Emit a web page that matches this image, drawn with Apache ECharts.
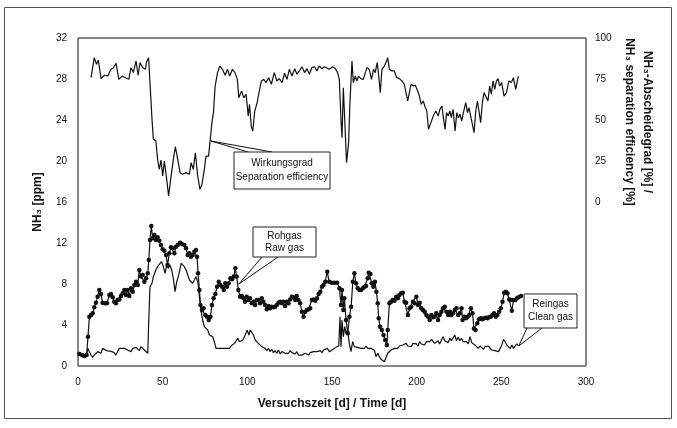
<!DOCTYPE html>
<html>
<head>
<meta charset="utf-8">
<script src="https://cdn.jsdelivr.net/npm/echarts@6/dist/echarts.min.js"></script>
<style>
  html, body { margin: 0; padding: 0; background: #fff; }
  #chart { width: 677px; height: 428px; }
</style>
</head>
<body>
<div id="chart"></div>
<script>
'use strict';

// NH3 separation efficiency [%] (right axis)
const effDays = [7.7, 9.6, 10.9, 12, 13.6, 15.6, 17.6, 19.5, 20.9, 22.5, 24.1, 26, 28, 30, 31.3, 32.7, 34.3, 35.5, 36.6, 38.2,
  39.8, 40.5, 41.7, 42.5, 43.7, 44.5, 46, 47, 48, 49, 50, 51, 52.4, 53.5, 55, 56.3, 57.5, 58.9, 60.3, 61.8,
  63.8, 65.8, 66.8, 68.1, 69.3, 70.7, 72, 73.2, 74.6, 75.6, 77.1, 77.9, 79.1, 80, 81, 82.4, 83.8, 85.3, 86.9, 88.3,
  89.6, 91.2, 92.7, 94.1, 95, 96.6, 98, 99.3, 100.5, 101.3, 102.3, 103.2, 104.4, 105.8, 106.7, 108.3, 109.7, 111, 112.6, 114.2,
  115.9, 117.5, 118.9, 120.5, 122, 123.4, 124.8, 126.4, 128, 129.3, 130.7, 132.2, 133.8, 135.2, 136.6, 138.1, 139.7, 141, 142.4, 144,
  145.5, 146.5, 148.4, 150.4, 152, 153.3, 154.3, 155.3, 155.9, 156.7, 157.5, 158.6, 159.8, 160.6, 161.8, 162.6, 163.8, 164.7, 165.7, 167.1,
  168.5, 169.6, 170.6, 172, 173.3, 174.5, 175.5, 176.7, 177.5, 178.5, 179.5, 180.9, 181.9, 182.9, 183.9, 185.4, 186.8, 188.2, 189.8, 191.3,
  192.7, 193.7, 194.7, 195.7, 196.7, 198, 199.2, 200.6, 201.6, 202.7, 203.9, 205.1, 206, 207, 208.4, 209.8, 211.3, 212.7, 213.7, 214.9,
  215.9, 216.8, 217.6, 218.6, 219.6, 220.5, 221.5, 222.7, 223.7, 224.6, 225.6, 226.6, 227.6, 229, 230, 230.9, 232.3, 233.9, 234.9, 235.9,
  236.8, 237.8, 238.8, 239.8, 240.8, 242.1, 243.1, 244.1, 245.1, 246.1, 247.1, 248.1, 249, 250.2, 251.6, 253, 254.5, 255.9, 257.1, 258.5, 260];
const effPct = [75.8, 88, 84, 86.6, 75.2, 77.3, 76.9, 80.9, 81.9, 84.6, 74.8, 76.8, 75.8, 74.8, 81.9, 78.9, 86, 77.3, 85, 81.9,
  80.9, 85.4, 88, 72.8, 50.4, 38.2, 37.2, 26, 19.9, 25.6, 15.9, 25, 13.8, 3.7, 15.9, 26, 33.7, 26, 17.9, 16.9,
  17.9, 16.9, 24, 19.9, 30, 15.9, 7.7, 10.8, 19.9, 28, 28, 36.2, 48.4, 54.5, 70.7, 78.9, 82.9, 80.9, 77.3, 80.9,
  76.8, 80.9, 78.9, 74.8, 63.6, 67.7, 63.6, 65.7, 52.4, 59.6, 46.3, 43.3, 55.5, 60.6, 65.7, 73.8, 74.8, 72.8, 75.8, 71.8,
  78.9, 73.8, 75.2, 72.8, 78.5, 74.8, 80.9, 76.8, 81.3, 77.9, 79.9, 82.5, 78.9, 81.3, 77.9, 81.9, 82.5, 79.9, 82.9, 81.3,
  82.5, 81.9, 80.9, 82.5, 81.3, 78.9, 74.8, 50.4, 39.2, 69.7, 50.4, 24, 36.2, 60.6, 86, 72.8, 76.8, 73.8, 76.8, 75.2,
  74.8, 75.8, 81.9, 80.9, 74.8, 80.9, 78.9, 85, 77.9, 66.7, 80.9, 82.9, 85, 88, 80.9, 79.9, 79.9, 75.8, 75.2, 73.8,
  71.8, 70.7, 61.6, 60.6, 71.8, 70.7, 71.2, 67.7, 64.6, 59.6, 61.6, 57.5, 55.5, 44.3, 48.4, 52.4, 55.5, 52.4, 56.5, 58.5,
  50.4, 44.3, 54.5, 52.4, 55.5, 51.4, 56.5, 43.3, 54.5, 51.4, 53.5, 49.4, 54.5, 60.6, 54.5, 57.5, 50.4, 42.3, 55.5, 61.6,
  62.6, 48.4, 60.6, 66.7, 67.7, 61.6, 70.7, 65.7, 73.8, 68.7, 73.8, 75.2, 70.7, 72.8, 64.6, 66.7, 73.8, 72.8, 75.8, 68.7, 76.8];

// Rohgas / raw gas NH3 [ppm]
const rawDays = [0.8, 2.4, 3.7, 5.1, 5.9, 6.7, 7.7, 8.7, 9.6, 10.6, 11.6, 12.6, 13.6, 14.5, 15.9, 17.1, 18.5, 19.5, 20.5, 21.4,
  22.4, 23.4, 24.4, 25.4, 26.4, 27.4, 28.3, 29.3, 30.3, 31.3, 32.3, 33.3, 34.3, 35.3, 36.2, 37.2, 38.2, 39.2, 40.2, 41.2,
  41.8, 42.5, 43.3, 44.1, 45.1, 46, 47, 48, 49, 50, 51, 52, 52.9, 53.9, 54.9, 55.9, 56.9, 57.9, 58.9, 60.3,
  61.4, 62.8, 63.8, 64.8, 65.8, 66.7, 67.7, 68.7, 69.7, 70.3, 70.9, 71.7, 72.3, 73.2, 74.2, 75.2, 76.2, 77.2, 78.2, 79.1,
  80.1, 81.1, 82.1, 83.1, 84.1, 85.1, 86.1, 87, 88, 89, 90, 91, 92, 92.9, 93.7, 94.7, 95.7, 96.7, 97.7, 98.6,
  99.6, 100.6, 101.6, 102.6, 103.6, 104.6, 105.6, 106.5, 107.5, 108.5, 109.5, 110.5, 111.5, 112.5, 113.4, 114.4, 115.4, 116.4, 117.4, 118.4,
  119.4, 120.4, 121.3, 122.3, 123.3, 124.3, 125.3, 126.3, 127.3, 128.3, 129.2, 130.2, 131.2, 132.2, 133.2, 134.2, 135.2, 136.2, 137.1, 138.1,
  139.1, 140.1, 141.1, 142.1, 143.1, 144.1, 145, 146, 147.2, 148.3, 149.8, 151.4, 153, 154.4, 155.3, 155.9, 156.7, 157.3, 158.3, 159.3,
  160.3, 161.3, 162.3, 163.2, 164.2, 165.2, 166.2, 167.2, 168.2, 169.2, 170.1, 171.1, 171.7, 172.7, 173.5, 174.4, 175.4, 176.2, 177, 177.6,
  178.4, 179.4, 180.4, 181.4, 182.4, 182.9, 183.9, 184.9, 185.9, 186.9, 187.9, 188.9, 189.8, 190.8, 191.8, 192.8, 193.8, 194.8, 195.8, 196.8,
  197.8, 198.8, 199.8, 200.8, 201.8, 202.7, 203.7, 204.7, 205.7, 206.7, 207.7, 208.7, 209.7, 210.6, 211.6, 212.6, 213.6, 214.6, 215.6, 216.6,
  217.6, 218.6, 219.6, 220.5, 221.5, 222.5, 223.5, 224.5, 225.5, 226.5, 227.1, 228.1, 229.1, 230.1, 231, 232, 233, 233.8, 234.8, 235.8,
  236.8, 237.8, 238.8, 239.8, 240.8, 241.8, 242.7, 243.7, 244.7, 245.7, 246.7, 247.7, 248.7, 249.7, 250.7, 251.7, 252.7, 253.6, 254.6, 255.6,
  256.2, 257.2, 258.2, 259.2, 260.2, 261.6];
const rawPpm = [1.17, 1.07, 0.98, 1.07, 2.86, 4.81, 4.98, 5.14, 5.72, 6.18, 6.76, 7.41, 7.02, 6.18, 6.11, 6.11, 6.93, 7.02, 6.7, 6.28,
  6.11, 6.44, 6.5, 6.83, 7.09, 7.41, 6.93, 7.41, 6.83, 7.58, 7.25, 7.9, 8.22, 7.9, 9.37, 8.72, 8.88, 8.22, 8.55, 9.04,
  10.34, 12.29, 13.66, 12.46, 12.78, 12.29, 12.55, 12.23, 11.8, 11.38, 11.25, 10.83, 9.85, 10.99, 11.58, 11.48, 10.99, 11.64, 11.8, 12.03,
  11.9, 11.8, 11.48, 10.83, 10.99, 10.66, 10.83, 11.15, 11.32, 10.66, 9.04, 7.41, 5.95, 5.46, 5.63, 4.98, 4.81, 4.49, 4.81, 5.95,
  6.6, 7.02, 7.74, 8.22, 7.9, 7.74, 7.41, 8.07, 7.74, 8.07, 8.55, 8.46, 8.72, 9.53, 8.72, 7.41, 6.76, 6.83, 6.6, 6.28,
  6.76, 6.44, 6.6, 6.11, 6.28, 5.95, 6.44, 6.44, 6.11, 6.6, 6.28, 5.95, 5.53, 5.85, 5.63, 5.79, 5.72, 5.79, 5.95, 6.18,
  6.28, 6.11, 6.28, 5.85, 6.28, 6.11, 6.5, 6.76, 6.7, 6.44, 6.83, 6.44, 6.11, 5.3, 4.81, 5.3, 5.46, 5.53, 5.63, 6.44,
  6.5, 6.37, 6.6, 7.02, 7.25, 7.74, 7.9, 8.22, 9.2, 8.22, 8.13, 8.13, 8.13, 7.58, 5.95, 7.41, 5.46, 6.6, 4.49, 3.19,
  4.81, 5.79, 8.22, 9.04, 8.07, 7.58, 7.41, 7.41, 7.58, 7.74, 7.8, 8.55, 9.1, 8.98, 8.07, 7.74, 8.22, 7.25, 6.11, 4.65,
  3.84, 3.51, 3.02, 2.54, 2.05, 3.51, 6.11, 6.28, 6.44, 6.37, 6.76, 6.6, 6.93, 7.09, 7.15, 6.28, 6.18, 4.98, 5.63, 5.79,
  6.28, 6.11, 6.76, 5.95, 6.18, 5.63, 5.46, 5.3, 4.98, 4.81, 4.49, 4.98, 4.75, 4.81, 5.14, 4.49, 4.98, 5.3, 5.63, 5.79,
  5.3, 4.98, 5.3, 4.98, 5.14, 5.46, 5.63, 4.98, 5.14, 5.63, 4.49, 4.81, 4.65, 4.81, 4.98, 5.63, 5.14, 3.67, 3.51, 4.16,
  4.55, 4.65, 4.55, 4.65, 4.71, 4.65, 4.75, 4.81, 4.98, 5.14, 4.81, 4.98, 5.3, 5.63, 6.28, 7.15, 7.25, 7.09, 6.5, 6.44,
  5.4, 6.44, 6.44, 6.6, 6.7, 6.83];

// Reingas / clean gas NH3 [ppm]
const cleanDays = [0.6, 2, 3, 4.5, 5.9, 6.7, 7.7, 8.7, 9.6, 10.6, 11.6, 12.6, 13.6, 14.5, 15.5, 16.9, 18.5, 20.1, 21.4, 22.4,
  23.4, 24.4, 26, 27.4, 28.3, 29.3, 30.3, 31.3, 32.3, 33.3, 34.3, 35.3, 36.2, 37.2, 38.2, 39.2, 40.2, 41.2, 41.8, 42.5,
  43.7, 44.5, 45.5, 46.4, 47.6, 48.4, 49.4, 50.4, 51.4, 52.4, 53.3, 54.3, 55.3, 56.3, 57.3, 58.3, 59.5, 60.9, 61.8, 62.8,
  63.8, 64.8, 65.8, 66.7, 67.7, 68.7, 69.7, 70.9, 71.7, 72.6, 73.6, 74.6, 75.6, 76.6, 77.6, 78.5, 79.5, 80.5, 81.5, 82.5,
  83.5, 84.5, 85.5, 86.5, 87.4, 88.4, 89.4, 90.4, 91.4, 92.4, 93.4, 94.3, 95.3, 96.3, 97.3, 98.3, 99.3, 99.9, 100.9, 101.7,
  102.6, 103.6, 104.6, 105.6, 106.5, 107.5, 108.5, 109.5, 110.5, 111.5, 112.5, 113.4, 114.4, 115.4, 116.4, 117.4, 118.4, 119.4, 120.4, 121.3,
  122.3, 123.3, 124.3, 125.3, 126.3, 127.3, 128.3, 129.2, 130.2, 131.2, 132.2, 133.2, 134.2, 135.2, 136.2, 137.1, 138.1, 139.1, 140.1, 141.1,
  142.1, 143.1, 144.1, 145, 146, 147.2, 148.5, 149.5, 151.5, 152.8, 154, 154.7, 155.3, 155.9, 156.7, 157.5, 158.3, 159.2, 160.2, 161.2,
  162.2, 163.2, 164.2, 165.1, 166.1, 167.1, 168.1, 169.1, 170.1, 171.1, 172, 173, 174, 175, 176, 177, 178, 179, 180, 180.9,
  181.9, 182.9, 183.9, 184.9, 185.9, 186.9, 187.9, 188.9, 189.8, 190.8, 191.8, 192.8, 193.8, 194.8, 195.8, 196.8, 197.8, 198.8, 199.8, 200.8,
  201.8, 202.7, 203.7, 204.7, 205.7, 206.7, 207.7, 208.7, 209.7, 210.6, 211.6, 212.6, 213.6, 214.6, 215.6, 216.6, 217.6, 218.6, 219.6, 220.5,
  221.5, 222.5, 223.5, 224.5, 225.5, 226.5, 227.5, 228.5, 229.5, 230.5, 231.5, 232.5, 233.4, 234.4, 235.4, 236.4, 237.4, 238.4, 239.4, 240.4,
  241.3, 242.3, 243.3, 244.3, 245.3, 246.3, 247.3, 248.3, 249.3, 250.3, 251.3, 252.2, 253.2, 254.2, 255.2, 256.2, 257.2, 258.2, 259.2, 260.1];
const cleanPpm = [1.07, 1.24, 0.91, 0.85, 1.72, 1.4, 1.07, 0.85, 1.07, 1.24, 1.4, 1.3, 1.24, 1.72, 1.56, 1.5, 1.46, 1.4, 1.3, 1.07,
  1.4, 1.72, 1.72, 1.72, 1.89, 1.56, 1.72, 1.4, 1.72, 1.56, 1.82, 1.72, 1.5, 1.89, 1.72, 1.56, 1.72, 1.24, 4.49, 7.74,
  8.07, 8.72, 8.88, 9.53, 9.85, 10.02, 10.18, 9.69, 9.04, 9.85, 9.53, 9.85, 9.37, 8.55, 7.25, 8.22, 8.88, 10.02, 9.85, 9.69,
  9.37, 8.88, 8.39, 8.55, 8.07, 8.39, 8.72, 8.07, 6.76, 5.46, 4.49, 3.84, 3.67, 3.51, 3.02, 3.19, 2.86, 2.37, 1.72, 1.56,
  1.72, 1.56, 1.72, 1.89, 1.72, 1.89, 1.72, 1.95, 2.05, 2.21, 2.37, 2.7, 2.37, 2.21, 2.54, 2.86, 3.02, 3.51, 3.02, 3.51,
  3.58, 3.02, 2.54, 2.37, 2.21, 2.05, 1.89, 1.72, 1.72, 1.5, 1.72, 1.4, 1.63, 1.3, 1.5, 1.24, 1.56, 1.17, 1.4, 1.56,
  1.24, 1.4, 1.24, 1.5, 1.3, 1.4, 1.17, 1.4, 1.07, 1.24, 1.07, 0.98, 1.24, 1.3, 1.07, 1.3, 1.17, 1.4, 1.24, 1.4,
  1.24, 1.5, 1.3, 1.56, 1.4, 1.72, 1.4, 1.56, 1.72, 1.89, 1.95, 4.81, 1.89, 4.49, 2.86, 3.84, 3.19, 3.51, 2.21, 1.4,
  2.37, 1.89, 2.05, 1.82, 1.95, 1.72, 1.89, 1.72, 1.95, 1.72, 1.56, 1.72, 1.89, 1.56, 0.91, 1.24, 0.91, 0.65, 0.59, 0.42,
  0.59, 1.24, 1.4, 1.56, 1.5, 1.72, 1.89, 1.72, 1.95, 1.82, 2.05, 1.89, 2.21, 1.95, 2.05, 1.89, 2.21, 2.05, 2.15, 1.95,
  2.37, 2.15, 2.28, 2.05, 2.37, 2.54, 2.37, 2.6, 2.47, 2.21, 2.28, 2.47, 2.15, 2.54, 2.86, 2.47, 2.6, 2.28, 2.7, 2.47,
  2.6, 3.02, 2.47, 2.8, 2.47, 2.7, 2.37, 2.21, 2.37, 2.15, 2.86, 2.28, 2.15, 2.05, 2.21, 1.72, 1.95, 1.82, 1.63, 1.89,
  1.72, 1.95, 1.89, 1.56, 1.72, 1.5, 1.63, 1.4, 1.72, 2.05, 2.6, 2.37, 2.05, 2.21, 1.72, 2.05, 1.72, 1.89, 2.15, 1.95];

// axis ticks
const xTicks = {min: 0, max: 300, interval: 50};
const leftTicks = {min: 0, max: 32, interval: 4};
const rightTicks = {min: -100, max: 100, interval: 25};

const FONT = '"Liberation Sans", Arial, Helvetica, sans-serif';
const INK = '#111';

const zip = (xs, ys) => xs.map((x, i) => [x, ys[i]]);

const chart = echarts.init(document.getElementById('chart'), null, {renderer: 'canvas'});

const labelStyle = {color: INK, fontFamily: FONT, fontSize: 10};
const nameStyle = {color: INK, fontFamily: FONT, fontSize: 12, fontWeight: 'bold'};

chart.setOption({
    animation: false,
    backgroundColor: '#fff',
    grid: {left: 78, right: 91, top: 38, bottom: 62, show: true, borderColor: INK, borderWidth: 1},
    xAxis: {
        type: 'value', min: xTicks.min, max: xTicks.max, interval: xTicks.interval,
        name: 'Versuchszeit [d] / Time [d]', nameLocation: 'middle', nameGap: 32, nameTextStyle: nameStyle,
        axisLine: {show: false}, axisTick: {show: false}, splitLine: {show: false},
        axisLabel: Object.assign({margin: 11}, labelStyle)
    },
    yAxis: [{
        type: 'value', min: leftTicks.min, max: leftTicks.max, interval: leftTicks.interval,
        name: 'NH₃ [ppm]', nameLocation: 'middle', nameGap: 34, nameRotate: 90, nameTextStyle: nameStyle,
        axisLine: {show: false}, axisTick: {show: false}, splitLine: {show: false},
        axisLabel: Object.assign({margin: 11}, labelStyle)
    }, {
        type: 'value', position: 'right', min: rightTicks.min, max: rightTicks.max, interval: rightTicks.interval,
        axisLine: {show: false}, axisTick: {show: false}, splitLine: {show: false},
        axisLabel: Object.assign({margin: 9, formatter: v => (v >= 0 ? String(v) : '')}, labelStyle)
    }],
    series: [{
        name: 'Wirkungsgrad', type: 'line', yAxisIndex: 1,
        data: zip(effDays, effPct), showSymbol: false,
        lineStyle: {color: INK, width: 1.2}
    }, {
        name: 'Rohgas', type: 'line',
        data: zip(rawDays, rawPpm), symbol: 'circle', symbolSize: 4.5,
        itemStyle: {color: INK}, lineStyle: {color: INK, width: 1.2}
    }, {
        name: 'Reingas', type: 'line',
        data: zip(cleanDays, cleanPpm), showSymbol: false,
        lineStyle: {color: INK, width: 1.2}
    }]
});

// callout boxes with wedge pointers onto the curves
function callout(text, box, base, tip, yAxisIndex, lineHeight) {
    const p = chart.convertToPixel({xAxisIndex: 0, yAxisIndex: yAxisIndex}, tip);
    return [{
        type: 'polyline', z: 50,
        shape: {points: [[base[0], base[2]], p, [base[1], base[2]]]},
        style: {stroke: INK, lineWidth: 1, fill: null}
    }, {
        type: 'rect', z: 51,
        shape: {x: box[0], y: box[1], width: box[2], height: box[3]},
        style: {fill: '#fff', stroke: '#222', lineWidth: 1}
    }, {
        type: 'text', z: 52, x: box[0] + box[2] / 2, y: box[1] + box[3] / 2,
        style: {text: text, fill: INK, font: '10px ' + FONT, align: 'center', verticalAlign: 'middle', lineHeight: lineHeight}
    }];
}

chart.setOption({
    graphic: [
        {type: 'rect', shape: {x: 4.5, y: 7.5, width: 667, height: 411}, style: {fill: null, stroke: '#555', lineWidth: 1}},
        {
            type: 'text', x: 638, y: 122, rotation: -Math.PI / 2,
            style: {
                text: 'NH₃-Abscheidegrad [%] /\nNH₃ separation efficiency [%]',
                fill: INK, font: 'bold 12px ' + FONT, align: 'center', verticalAlign: 'middle', lineHeight: 18
            }
        }
    ]
    .concat(callout('Wirkungsgrad\nSeparation efficiency', [234, 152, 96, 37], [248, 272, 152], [78.5, 37.2], 1, 14))
    .concat(callout('Rohgas\nRaw gas', [253, 227, 63, 30], [262, 278, 257], [95, 8.0], 0, 12))
    .concat(callout('Reingas\nClean gas', [524, 294, 53, 34], [527, 542, 328], [260.3, 1.95], 0, 13))
});
</script>
</body>
</html>
